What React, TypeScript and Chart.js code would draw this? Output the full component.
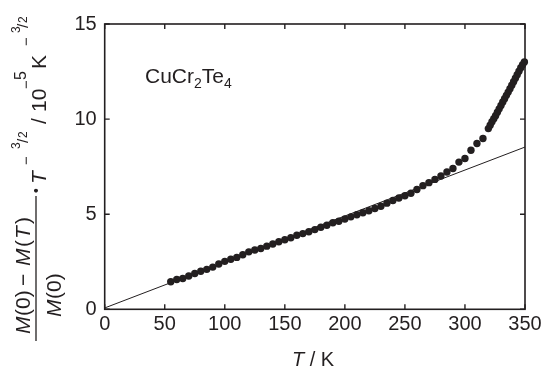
import React, { useEffect, useRef } from "react";
import { Chart, registerables } from "chart.js";

Chart.register(...registerables);

// ---- data ----
const temperatureK = [
  55, 60, 65, 70, 75, 80, 85, 90, 95, 100,
  105, 110, 115, 120, 125, 130, 135, 140, 145, 150,
  155, 160, 165, 170, 175, 180, 185, 190, 195, 200,
  205, 210, 215, 220, 225, 230, 235, 240, 245, 250,
  255, 260, 265, 270, 275, 280, 285, 290, 295, 300,
  305, 310, 315,
  319.5, 321, 322.5, 324, 325.5, 327, 328.5, 330, 331.5, 333,
  334.5, 336, 337.5, 339, 340.5, 342, 343.5, 345, 346.5, 348, 349.5,
];
const reducedMagnetization = [
  1.45, 1.57, 1.62, 1.75, 1.88, 2.0, 2.1, 2.22, 2.38, 2.52,
  2.63, 2.73, 2.87, 3.02, 3.12, 3.2, 3.32, 3.43, 3.55, 3.66,
  3.76, 3.89, 3.98, 4.08, 4.19, 4.31, 4.42, 4.55, 4.63, 4.75,
  4.86, 4.97, 5.08, 5.18, 5.3, 5.42, 5.58, 5.72, 5.85, 5.97,
  6.1, 6.3, 6.5, 6.66, 6.83, 7.01, 7.22, 7.4, 7.74, 7.93,
  8.36, 8.72, 8.98,
  9.5, 9.68, 9.86, 10.02, 10.18, 10.36, 10.54, 10.72, 10.9, 11.07,
  11.25, 11.42, 11.6, 11.78, 11.96, 12.15, 12.33, 12.52, 12.7, 12.86, 13.0,
];
const fitT = [0, 350];
const fitValues = [0.07, 8.53];
const xTickValues = [0, 50, 100, 150, 200, 250, 300, 350];
const yTickValues = [0, 5, 10, 15];
const compoundParts = [
  { text: "CuCr", sub: false },
  { text: "2", sub: true },
  { text: "Te", sub: false },
  { text: "4", sub: true },
];

const INK = "#231f20";
const FAMILY = "'Liberation Sans', Arial, Helvetica, sans-serif";
const fontOf = (size: number, italic = false) =>
  `${italic ? "italic " : ""}${size}px ${FAMILY}`;

type Run = { text: string; size: number; italic?: boolean; x: number; y: number };

// rotated y-axis title, each run: baseline screen x, screen y where it starts (text grows upward)
const yTitleRuns: Run[] = [
  // numerator
  { text: "M", size: 21, italic: true, x: 30, y: 334 },
  { text: "(0)", size: 21, x: 30, y: 316 },
  { text: "\u2212", size: 21, x: 30, y: 286 },
  { text: "M", size: 21, italic: true, x: 30, y: 266 },
  { text: "(", size: 21, x: 30, y: 247 },
  { text: "T", size: 21, italic: true, x: 30, y: 239 },
  { text: ")", size: 21, x: 30, y: 224 },
  // denominator
  { text: "M", size: 21, italic: true, x: 61, y: 317 },
  { text: "(0)", size: 21, x: 61, y: 299 },
  // rest
  { text: "\u2022", size: 14, x: 41, y: 193 },
  { text: "T", size: 21, italic: true, x: 46, y: 184 },
  { text: "\u2212", size: 15, x: 31, y: 165 },
  { text: "3", size: 12, x: 20, y: 149 },
  { text: "/", size: 15, x: 28, y: 143 },
  { text: "2", size: 12, x: 27, y: 138 },
  { text: "/", size: 21, x: 46, y: 124 },
  { text: "10", size: 21, x: 46, y: 112 },
  { text: "\u2212", size: 15, x: 31, y: 89 },
  { text: "5", size: 16, x: 26, y: 80 },
  { text: "K", size: 21, x: 46, y: 69 },
  { text: "\u2212", size: 15, x: 31, y: 46 },
  { text: "3", size: 12, x: 20, y: 33 },
  { text: "/", size: 15, x: 28, y: 28 },
  { text: "2", size: 12, x: 27, y: 23 },
];

const decorPlugin = {
  id: "decor",
  beforeDatasetsDraw(chart: any) {
    const { ctx, chartArea: a, scales } = chart;
    ctx.save();
    ctx.strokeStyle = INK;
    ctx.lineWidth = 1.6;
    ctx.strokeRect(a.left, a.top, a.right - a.left, a.bottom - a.top);
    const tl = 5;
    ctx.lineWidth = 1.4;
    ctx.beginPath();
    xTickValues.forEach((v) => {
      const px = scales.x.getPixelForValue(v);
      ctx.moveTo(px, a.bottom);
      ctx.lineTo(px, a.bottom - tl);
      ctx.moveTo(px, a.top);
      ctx.lineTo(px, a.top + tl);
    });
    yTickValues.forEach((v) => {
      const py = scales.y.getPixelForValue(v);
      ctx.moveTo(a.left, py);
      ctx.lineTo(a.left + tl, py);
      ctx.moveTo(a.right, py);
      ctx.lineTo(a.right - tl, py);
    });
    ctx.stroke();
    ctx.restore();
  },
  afterDraw(chart: any) {
    const { ctx } = chart;
    ctx.save();
    ctx.fillStyle = INK;
    ctx.textAlign = "left";
    ctx.textBaseline = "alphabetic";
    // y title
    for (const r of yTitleRuns) {
      ctx.save();
      ctx.translate(r.x, r.y);
      ctx.rotate(-Math.PI / 2);
      ctx.font = fontOf(r.size, r.italic);
      ctx.fillText(r.text, 0, 0);
      ctx.restore();
    }
    // fraction bar
    ctx.strokeStyle = INK;
    ctx.lineWidth = 1.3;
    ctx.beginPath();
    ctx.moveTo(36, 341);
    ctx.lineTo(36, 196);
    ctx.stroke();

    // x title "T / K"
    ctx.font = fontOf(20, true);
    const wT = ctx.measureText("T").width;
    ctx.font = fontOf(20);
    const wRest = ctx.measureText(" / K").width;
    const startX = 313 - (wT + wRest) / 2;
    ctx.font = fontOf(20, true);
    ctx.fillText("T", startX, 366);
    ctx.font = fontOf(20);
    ctx.fillText(" / K", startX + wT, 366);

    // compound label
    let x = 145;
    for (const p of compoundParts) {
      ctx.font = fontOf(p.sub ? 14 : 21);
      ctx.fillText(p.text, x, p.sub ? 88 : 83);
      x += ctx.measureText(p.text).width;
    }
    ctx.restore();
  },
};

export default function App() {
  const canvasRef = useRef<HTMLCanvasElement | null>(null);

  useEffect(() => {
    const canvas = canvasRef.current;
    if (!canvas) return;
    const points = temperatureK.map((t, i) => ({ x: t, y: reducedMagnetization[i] }));
    const fit = fitT.map((t, i) => ({ x: t, y: fitValues[i] }));
    const chart = new Chart(canvas, {
      type: "scatter",
      data: {
        datasets: [
          {
            label: "fit",
            data: fit,
            showLine: true,
            borderColor: INK,
            borderWidth: 1,
            pointRadius: 0,
            fill: false,
            order: 2,
          },
          {
            label: "data",
            data: points,
            pointRadius: 3.7,
            pointBackgroundColor: INK,
            pointBorderColor: INK,
            pointBorderWidth: 0,
            clip: 6,
            order: 1,
          } as any,
        ],
      },
      options: {
        animation: false,
        responsive: false,
        devicePixelRatio: 1,
        layout: { padding: { top: 24, right: 20, left: 0, bottom: 0 } },
        plugins: { legend: { display: false }, tooltip: { enabled: false } },
        scales: {
          x: {
            type: "linear",
            min: 0,
            max: 350,
            afterFit: (s: any) => {
              s.height = 59.7;
            },
            afterBuildTicks: (s: any) => {
              s.ticks = xTickValues.map((v) => ({ value: v }));
            },
            grid: { display: false, drawTicks: false },
            border: { display: false },
            ticks: {
              padding: 3,
              color: INK,
              font: { family: FAMILY, size: 20 },
              maxRotation: 0,
            },
          },
          y: {
            type: "linear",
            min: 0,
            max: 15,
            afterFit: (s: any) => {
              s.width = 104.7;
            },
            afterBuildTicks: (s: any) => {
              s.ticks = yTickValues.map((v) => ({ value: v }));
            },
            grid: { display: false, drawTicks: false },
            border: { display: false },
            ticks: {
              padding: 8,
              color: INK,
              font: { family: FAMILY, size: 20 },
            },
          },
        },
      },
      plugins: [decorPlugin],
    });
    return () => chart.destroy();
  }, []);

  return (
    <div style={{ position: "absolute", left: 0, top: 0, width: 545, height: 369, background: "#fff" }}>
      <canvas ref={canvasRef} width={545} height={369} style={{ display: "block" }} />
    </div>
  );
}
